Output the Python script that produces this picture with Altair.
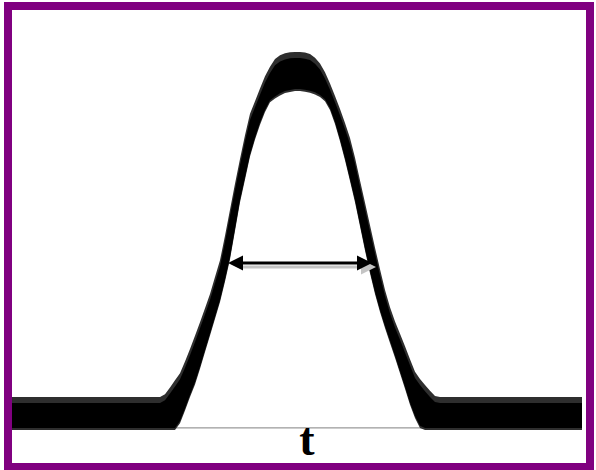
import altair as alt
import pandas as pd

# Time (arbitrary units, pulse centre near 0)
t = [-28.6, -13.8, -13.3, -12.8, -12.3, -11.8, -11.3, -10.8, -10.3, -9.8,
     -9.3, -8.8, -8.3, -7.8, -7.3, -6.8, -6.3, -5.8, -5.3, -4.8,
     -4.3, -3.8, -3.3, -2.8, -2.3, -1.8, -1.3, -0.8, -0.3, 0.2,
     0.7, 1.2, 1.7, 2.2, 2.7, 3.2, 3.7, 4.2, 4.7, 5.2,
     5.7, 6.2, 6.7, 7.2, 7.7, 8.2, 8.7, 9.2, 9.7, 10.2,
     10.7, 11.2, 11.7, 12.2, 12.7, 13.2, 13.7, 14.2, 28.4]

# Upper and lower edges of the noisy trace (% of peak amplitude)
upper = [3.5, 3.5, 4.3, 6.3, 8.4, 10.5, 13.9, 17.6, 21.5, 25.5,
         29.6, 33.8, 38.8, 43.7, 50.9, 58.6, 66.2, 73.5, 80.5, 86.8,
         90.5, 94.2, 97.8, 100.6, 102.9, 104.0, 104.6, 104.9, 105.0, 105.0,
         104.8, 104.4, 103.3, 101.6, 99.0, 95.7, 92.0, 88.2, 84.1, 79.7,
         73.9, 67.2, 60.6, 54.0, 47.4, 41.1, 35.0, 29.9, 25.7, 22.1,
         18.4, 14.6, 10.9, 8.8, 7.0, 5.3, 3.8, 3.5, 3.5]
lower = [-3.8, -3.8, -3.8, -3.8, -3.8, -1.8, 1.9, 5.9, 9.6, 14.2,
         19.1, 24.0, 28.9, 33.8, 39.9, 46.4, 54.8, 63.2, 69.9, 76.6,
         81.6, 86.0, 89.7, 92.6, 93.7, 94.6, 95.3, 95.6, 95.9, 95.9,
         95.7, 95.4, 94.9, 94.1, 92.9, 90.3, 86.2, 81.1, 75.5, 69.4,
         63.2, 56.1, 49.0, 42.3, 36.2, 30.9, 26.2, 21.8, 17.4, 12.9,
         8.3, 3.6, -0.3, -3.2, -3.8, -3.8, -3.8, -3.8, -3.8]

# Width marker (arrow tips) and its level
arrow_t = [-7.0, 7.4]
arrow_level = 44.7

# Zero line
baseline_t = [-28.6, 28.4]
baseline_level = -3.8

# Axis label
label_text = ["t"]
label_t = [0.9]
label_level = [-11.8]

trace = pd.DataFrame({"t": t, "upper": upper, "lower": lower})
arrow = pd.DataFrame({"t0": [arrow_t[0]], "t1": [arrow_t[1]], "level": [arrow_level]})
heads = pd.DataFrame({"t": arrow_t, "level": [arrow_level] * 2, "side": ["left", "right"]})
base = pd.DataFrame({"t0": [baseline_t[0]], "t1": [baseline_t[1]], "level": [baseline_level]})
label = pd.DataFrame({"t": label_t, "level": label_level, "text": label_text})

xs = alt.Scale(domain=[-29.0, 29.2], nice=False, zero=False)
ys = alt.Scale(domain=[-15.3, 120.3], nice=False, zero=False)

LEFT_HEAD = "M0,0L2,-1L2,1Z"
RIGHT_HEAD = "M0,0L-2,-1L-2,1Z"

zero_line = alt.Chart(base).mark_rule(color="#808080", strokeWidth=1).encode(
    x=alt.X("t0:Q", scale=xs, axis=None),
    x2="t1:Q",
    y=alt.Y("level:Q", scale=ys, axis=None),
)

# ragged noise fringe around the trace
fringe = alt.Chart(trace).transform_calculate(
    up="datum.upper + 1.8", lo="datum.lower - 0.6"
).mark_area(color="#2e2e2e", opacity=1).encode(
    x=alt.X("t:Q", scale=xs, axis=None),
    y=alt.Y("up:Q", scale=ys, axis=None),
    y2="lo:Q",
)

band = alt.Chart(trace).mark_area(color="black", opacity=1).encode(
    x=alt.X("t:Q", scale=xs, axis=None),
    y=alt.Y("upper:Q", scale=ys, axis=None),
    y2="lower:Q",
)

shadow_line = alt.Chart(arrow).mark_rule(
    color="#c4c4c4", strokeWidth=3, xOffset=15, x2Offset=-9, yOffset=4
).encode(
    x=alt.X("t0:Q", scale=xs, axis=None),
    x2="t1:Q",
    y=alt.Y("level:Q", scale=ys, axis=None),
)

shadow_head = alt.Chart(heads).transform_filter("datum.side == 'right'").mark_point(
    shape=RIGHT_HEAD, size=225, filled=True, color="#c4c4c4",
    opacity=1, strokeWidth=0, xOffset=4, yOffset=4
).encode(
    x=alt.X("t:Q", scale=xs, axis=None),
    y=alt.Y("level:Q", scale=ys, axis=None),
)

arrow_line = alt.Chart(arrow).mark_rule(
    color="black", strokeWidth=3, xOffset=10, x2Offset=-10
).encode(
    x=alt.X("t0:Q", scale=xs, axis=None),
    x2="t1:Q",
    y=alt.Y("level:Q", scale=ys, axis=None),
)

left_head = alt.Chart(heads).transform_filter("datum.side == 'left'").mark_point(
    shape=LEFT_HEAD, size=225, filled=True, color="black", opacity=1, strokeWidth=0
).encode(
    x=alt.X("t:Q", scale=xs, axis=None),
    y=alt.Y("level:Q", scale=ys, axis=None),
)

right_head = alt.Chart(heads).transform_filter("datum.side == 'right'").mark_point(
    shape=RIGHT_HEAD, size=225, filled=True, color="black", opacity=1, strokeWidth=0
).encode(
    x=alt.X("t:Q", scale=xs, axis=None),
    y=alt.Y("level:Q", scale=ys, axis=None),
)

t_label = alt.Chart(label).mark_text(
    font="Liberation Serif", fontWeight="bold", fontSize=46,
    align="center", baseline="alphabetic", color="black"
).encode(
    x=alt.X("t:Q", scale=xs, axis=None),
    y=alt.Y("level:Q", scale=ys, axis=None),
    text="text:N",
)

chart = alt.layer(
    zero_line, fringe, band, shadow_line, shadow_head,
    arrow_line, left_head, right_head, t_label
).properties(
    width=582,
    height=461,
    padding={"left": 8, "top": 6, "right": 6, "bottom": 3},
    autosize=alt.AutoSizeParams(type="none"),
    background="white",
).configure_view(
    stroke="#800080",
    strokeWidth=8,
)

chart.save("out.html", embed_options={"renderer": "svg", "actions": False})
